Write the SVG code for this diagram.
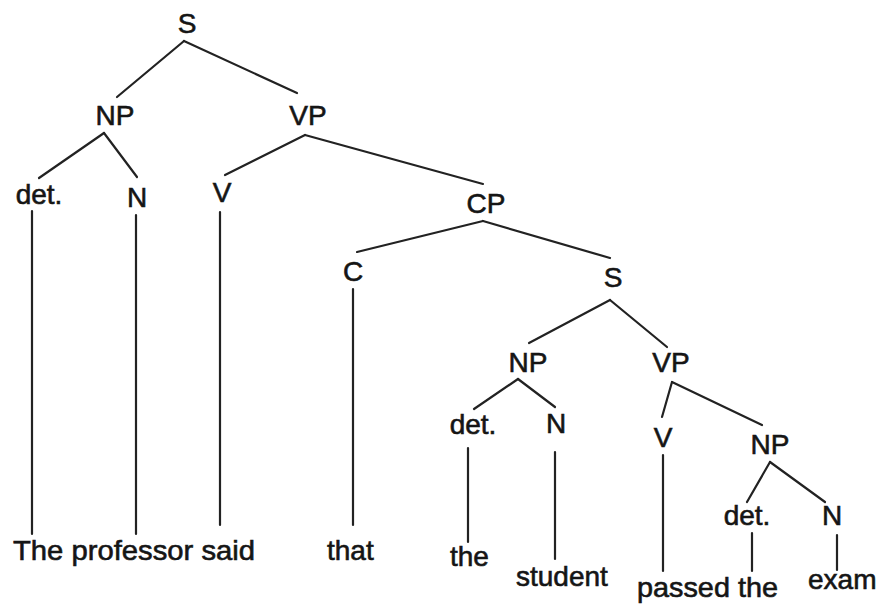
<svg xmlns="http://www.w3.org/2000/svg" width="883" height="608" viewBox="0 0 883 608">
  <style>
    .lbl { font-family: "Liberation Sans", Arial, sans-serif; font-size: 28px; fill: #151515; stroke: #151515; stroke-width: 0.6; text-anchor: middle; }
    .word { font-family: "Liberation Sans", Arial, sans-serif; font-size: 28px; fill: #151515; stroke: #151515; stroke-width: 0.6; }
    .edge { stroke: #222222; stroke-width: 2.2; fill: none; stroke-linecap: round; }
  </style>
  <rect width="883" height="608" fill="#ffffff"/>

  <!-- branches of the tree -->
  <g id="connectors">
    <line class="edge" x1="184" y1="41" x2="117" y2="97"/>
    <line class="edge" x1="184" y1="41" x2="297" y2="93"/>
    <line class="edge" x1="104" y1="133" x2="39" y2="178"/>
    <line class="edge" x1="104" y1="133" x2="137" y2="177"/>
    <line class="edge" x1="305" y1="135" x2="225" y2="175"/>
    <line class="edge" x1="305" y1="135" x2="483" y2="184"/>
    <line class="edge" x1="483" y1="221" x2="357" y2="252"/>
    <line class="edge" x1="483" y1="221" x2="610" y2="258"/>
    <line class="edge" x1="610" y1="300" x2="529" y2="343"/>
    <line class="edge" x1="610" y1="300" x2="667" y2="347"/>
    <line class="edge" x1="518" y1="379" x2="474" y2="409"/>
    <line class="edge" x1="518" y1="379" x2="555" y2="407"/>
    <line class="edge" x1="672" y1="382" x2="662" y2="417"/>
    <line class="edge" x1="672" y1="382" x2="762" y2="425"/>
    <line class="edge" x1="770" y1="462" x2="747" y2="502"/>
    <line class="edge" x1="770" y1="462" x2="825" y2="502"/>
    <!-- stems from preterminals down to words -->
    <line class="edge" x1="32" y1="211" x2="32" y2="534"/>
    <line class="edge" x1="136" y1="215" x2="136" y2="534"/>
    <line class="edge" x1="220" y1="212" x2="220" y2="525"/>
    <line class="edge" x1="353" y1="289" x2="353" y2="525"/>
    <line class="edge" x1="468" y1="448" x2="468" y2="542"/>
    <line class="edge" x1="555" y1="452" x2="555" y2="559"/>
    <line class="edge" x1="663" y1="455" x2="663" y2="571"/>
    <line class="edge" x1="752" y1="533" x2="752" y2="571"/>
    <line class="edge" x1="837" y1="535" x2="837" y2="570"/>
  </g>

  <!-- category nodes -->
  <g id="s1"><text class="lbl" x="187" y="33">S</text></g>
  <g id="np1"><text class="lbl" x="115" y="125">NP</text></g>
  <g id="vp1"><text class="lbl" x="308" y="125">VP</text></g>
  <g id="det1"><text class="lbl" x="39" y="204">det.</text></g>
  <g id="n1"><text class="lbl" x="137" y="207">N</text></g>
  <g id="v1"><text class="lbl" x="222" y="202">V</text></g>
  <g id="cp"><text class="lbl" x="486" y="213">CP</text></g>
  <g id="c"><text class="lbl" x="353" y="281">C</text></g>
  <g id="s2"><text class="lbl" x="613" y="287">S</text></g>
  <g id="np2"><text class="lbl" x="528" y="372">NP</text></g>
  <g id="vp2"><text class="lbl" x="671" y="372">VP</text></g>
  <g id="det2"><text class="lbl" x="473" y="434">det.</text></g>
  <g id="n2"><text class="lbl" x="556" y="433">N</text></g>
  <g id="v2"><text class="lbl" x="663" y="447">V</text></g>
  <g id="np3"><text class="lbl" x="770" y="454">NP</text></g>
  <g id="det3"><text class="lbl" x="747" y="525">det.</text></g>
  <g id="n3"><text class="lbl" x="832" y="525">N</text></g>

  <!-- words of the sentence -->
  <g id="words">
    <text class="word" x="13" y="560" textLength="242" lengthAdjust="spacingAndGlyphs">The professor said</text>
    <text class="word" x="327" y="560">that</text>
    <text class="word" x="450" y="566">the</text>
    <text class="word" x="516" y="586">student</text>
    <text class="word" x="637" y="597" textLength="141" lengthAdjust="spacingAndGlyphs">passed the</text>
    <text class="word" x="808" y="589">exam</text>
  </g>
</svg>
